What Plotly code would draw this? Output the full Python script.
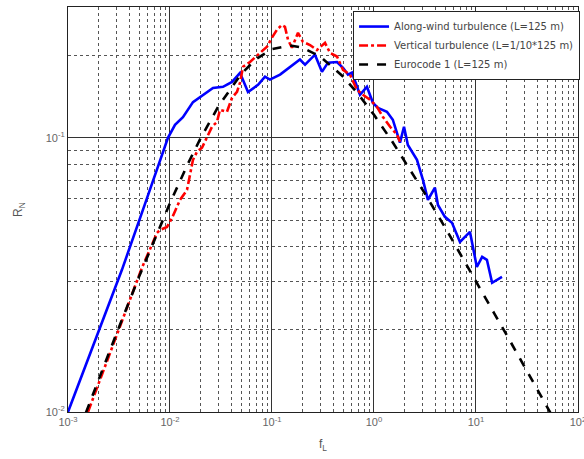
import plotly.graph_objects as go

# Along-wind turbulence (L=125 m)
along_f = [0.001, 0.00184, 0.00338, 0.00569, 0.00955, 0.0112, 0.0134, 0.0168, 0.0231, 0.0264,
           0.0331, 0.0406, 0.0486, 0.0582, 0.0730, 0.0854, 0.0955, 0.120, 0.188, 0.211,
           0.264, 0.309, 0.354, 0.434, 0.497, 0.556, 0.608, 0.729, 0.853, 0.978,
           1.094, 1.34, 1.53, 1.80, 1.97, 2.15, 2.64, 3.02, 3.38, 3.96,
           4.24, 4.96, 5.82, 6.97, 8.73, 10.2, 11.5, 12.8, 14.4, 16.1, 18.0]
along_r = [0.0100, 0.0182, 0.0330, 0.0574, 0.100, 0.1115, 0.119, 0.135, 0.147, 0.152,
           0.1535, 0.160, 0.1726, 0.147, 0.156, 0.167, 0.163, 0.170, 0.193, 0.185,
           0.201, 0.174, 0.188, 0.189, 0.180, 0.170, 0.173, 0.1435, 0.1535, 0.134,
           0.1286, 0.1244, 0.1164, 0.096, 0.1097, 0.0942, 0.0831, 0.0703, 0.0594, 0.0658,
           0.0569, 0.0515, 0.049, 0.0417, 0.0454, 0.0338, 0.0368, 0.0359, 0.0296, 0.0303, 0.0311]

# Vertical turbulence (L=1/10*125 m)
vert_f = [0.00157, 0.00289, 0.00531, 0.00746, 0.00798, 0.00935, 0.01047, 0.01254, 0.01469, 0.0168,
          0.01839, 0.0206, 0.0231, 0.0258, 0.0289, 0.0309, 0.0362, 0.0406, 0.0454, 0.0486,
          0.0520, 0.0609, 0.0730, 0.0894, 0.100, 0.112, 0.125, 0.134, 0.1435, 0.157,
          0.180, 0.201, 0.236, 0.276, 0.331, 0.371, 0.434, 0.497, 0.582, 0.681,
          0.780, 0.914, 1.07, 1.22, 1.44, 1.68, 1.80]
vert_r = [0.0100, 0.0183, 0.0336, 0.0450, 0.0461, 0.0473, 0.0510, 0.0594, 0.0646, 0.0831,
          0.0889, 0.0920, 0.1009, 0.1097, 0.1143, 0.1264, 0.1244, 0.140, 0.147, 0.159,
          0.1816, 0.189, 0.201, 0.215, 0.232, 0.248, 0.258, 0.254, 0.228, 0.213,
          0.2415, 0.224, 0.218, 0.209, 0.222, 0.204, 0.198, 0.177, 0.170, 0.1497,
          0.1435, 0.1377, 0.1298, 0.1194, 0.1097, 0.1026, 0.0967]

# Eurocode 1 (L=125 m)
ec_f = [0.0015, 0.002, 0.003, 0.005, 0.007, 0.01, 0.015, 0.02, 0.03, 0.05,
        0.07, 0.1, 0.15, 0.2, 0.3, 0.5, 0.7, 1, 1.5, 2,
        3, 5, 7, 10, 15, 20, 30, 50, 55]
ec_r = [0.00995, 0.01315, 0.0194, 0.0313, 0.0424, 0.0578, 0.0805, 0.0998, 0.1307, 0.1711,
        0.1939, 0.2107, 0.2172, 0.2131, 0.1974, 0.1670, 0.1445, 0.1213, 0.0973, 0.0824,
        0.0646, 0.0470, 0.0379, 0.0300, 0.0230, 0.0191, 0.0146, 0.0104, 0.00978]

names = ["Along-wind turbulence (L=125 m)", "Vertical turbulence (L=1/10*125 m)", "Eurocode 1 (L=125 m)"]

x_tickvals = [1e-3, 1e-2, 1e-1, 1e0, 1e1, 1e2]
x_ticktext = ["10<sup>-3</sup>", "10<sup>-2</sup>", "10<sup>-1</sup>", "10<sup>0</sup>", "10<sup>1</sup>", "10<sup>2</sup>"]
y_tickvals = [1e-2, 1e-1]
y_ticktext = ["10<sup>-2</sup>", "10<sup>-1</sup>"]

fig = go.Figure()
fig.add_trace(go.Scatter(x=along_f, y=along_r, mode="lines", name=names[0],
                         line=dict(color="#0000FF", width=2.6)))
fig.add_trace(go.Scatter(x=vert_f, y=vert_r, mode="lines", name=names[1],
                         line=dict(color="#FF0000", width=2.6, dash="dashdot")))
fig.add_trace(go.Scatter(x=ec_f, y=ec_r, mode="lines", name=names[2],
                         line=dict(color="#000000", width=2.6, dash="dash")))

FONT = "Liberation Sans, Arial, sans-serif"
tickfont = dict(family=FONT, size=11, color="#666666")
axis_common = dict(
    type="log", automargin=False,
    showgrid=True, gridcolor="#333333", gridwidth=1,
    showline=True, linecolor="#222222", linewidth=1, mirror=True,
    ticks="", tickfont=tickfont, zeroline=False, ticklabeloverflow="allow",
    minor=dict(dtick="D1", showgrid=True, gridcolor="#555555", griddash="dot", gridwidth=1, ticks=""),
)

fig.update_layout(
    width=584, height=459,
    margin=dict(l=68, r=6, t=7, b=47, autoexpand=False),
    paper_bgcolor="white", plot_bgcolor="white",
    showlegend=True,
    legend=dict(x=1.004, y=0.99, xanchor="right", yanchor="top",
                bgcolor="white", bordercolor="#222222", borderwidth=1,
                font=dict(family="DejaVu Sans, sans-serif", size=10, color="#444444"),
                tracegroupgap=0, itemwidth=30),
    xaxis=dict(axis_common, range=[-3, 2.0005], tickvals=x_tickvals, ticktext=x_ticktext,
               title=dict(text="f<sub>L</sub>", font=dict(family=FONT, size=12, color="#555555"), standoff=12)),
    yaxis=dict(axis_common, range=[-2, -0.5229], tickvals=y_tickvals, ticktext=y_ticktext,
               title=dict(text="R<sub>N</sub>", font=dict(family=FONT, size=12, color="#555555"), standoff=20)),
)

fig.write_html("out.html")
